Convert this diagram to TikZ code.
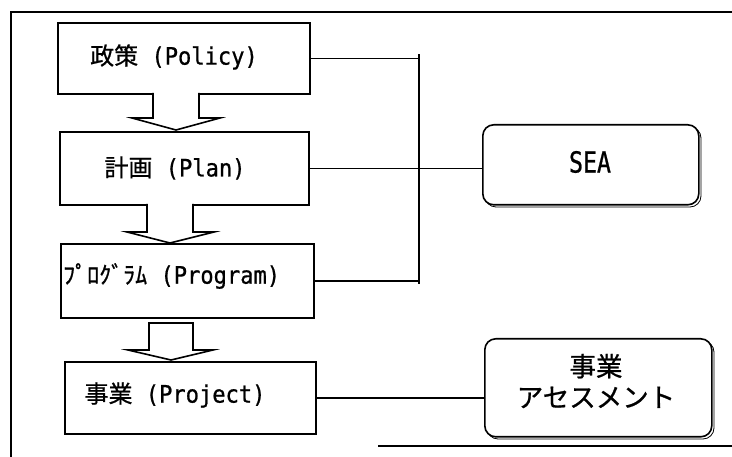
\documentclass[tikz,border=0pt]{standalone}
\usepackage{fontspec}
\setmainfont{Noto Sans CJK JP}
\newfontfamily\jp[FakeBold=0.8]{Noto Sans CJK JP}
\newfontfamily\lat[FakeStretch=0.92,FakeBold=0.8]{DejaVu Sans Mono}
\newfontfamily\latn[FakeStretch=0.8,FakeBold=0.8]{DejaVu Sans Mono}
\begin{document}
\begin{tikzpicture}[x=1pt,y=-1pt,
  box/.style={draw,line width=1.8pt,rectangle,anchor=north west,inner sep=0pt},
  rbox/.style={draw,line width=1.6pt,rectangle,rounded corners=11pt,anchor=north west,inner sep=0pt,fill=white},
  lbl/.style={inner sep=0pt,font=\fontsize{24}{28}\selectfont},
  conn/.style={line width=1.4pt},
  frame/.style={line width=2pt},
  harrow/.style={line width=1.6pt,line join=miter,fill=white}]
\useasboundingbox (0,0) rectangle (732,457);
% frame
\draw[frame] (11,457) -- (11,12) -- (732,12);
\draw[frame] (378,446) -- (732,446);
% process boxes
\node[box,minimum width=252pt,minimum height=71pt] (policy) at (57,22) {};
\node[box,minimum width=249pt,minimum height=73pt] (plan) at (59,131) {};
\node[box,minimum width=253pt,minimum height=74pt] (program) at (60,243) {};
\node[box,minimum width=251pt,minimum height=72pt] (project) at (64,361) {};
% texts
\node[lbl] (policyT) at (174,57) {\jp 政策\lat\ (Policy)};
\node[lbl] (planT) at (175,168) {\jp 計画\lat\ (Plan)};
\node[lbl,anchor=west] (programT) at (63,276) {\jp ﾌﾟﾛｸﾞﾗﾑ\lat\ (Program)};
\node[lbl] (projectT) at (175,395) {\jp 事業\lat\ (Project)};
% rounded boxes with slight shadow outline
\draw[line width=0.8pt,rounded corners=11pt] (485,127) rectangle (701,207);
\node[rbox,minimum width=216pt,minimum height=80pt] (sea) at (482,124) {};
\node[inner sep=0pt,font=\latn\fontsize{29}{30}\selectfont] (seaT) at (590,162) {SEA};
\draw[line width=0.8pt,rounded corners=11pt] (487,341) rectangle (714,439);
\node[rbox,minimum width=227pt,minimum height=98pt] (assess) at (484,338) {};
\node[inner sep=0pt,align=center,font=\jp\fontsize{26.5}{31}\selectfont] (assessT) at (596,381) {事業\\アセスメント};
% connectors
\coordinate (jx) at (419,0);
\draw[conn] (policy.east) -- (policy.east -| jx);
\draw[conn] (program.east) -- (program.east -| jx);
\draw[conn,shorten <=-4pt,shorten >=-3pt] (policy.east -| jx) -- (program.east -| jx);
\draw[conn] (plan.east) -- (plan.east -| sea.west);
\draw[conn] (project.east) -- (project.east -| assess.west);
% hollow arrows
\draw[harrow] (153,93) -- (153,118) -- (132,118) -- (176,130) -- (220,118) -- (199,118) -- (199,93);
\draw[harrow] (147,204) -- (147,232) -- (127,232) -- (170,243) -- (214,232) -- (193,232) -- (193,204);
\draw[harrow] (149,350) -- (149,323) -- (193,323) -- (193,350) -- (213,350) -- (171,360) -- (128,350) -- cycle;
\end{tikzpicture}
\end{document}
